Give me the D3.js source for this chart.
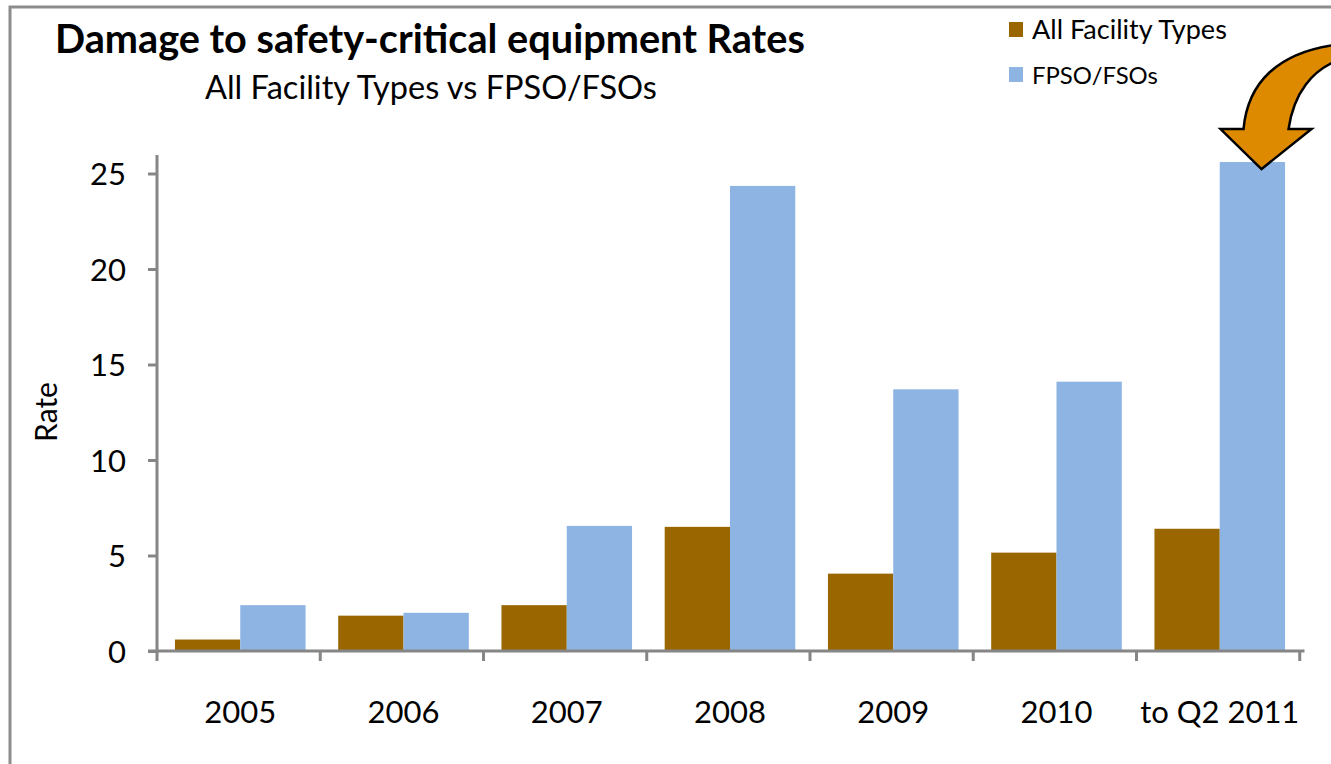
<!DOCTYPE html>
<html>
<head>
<meta charset="utf-8">
<script src="https://cdn.jsdelivr.net/npm/d3@7"></script>
<style>
  html, body { margin: 0; padding: 0; background: #fff; }
  svg { display: block; font-family: Lato, "Open Sans", sans-serif; }
</style>
</head>
<body>
<svg id="chart" width="1331" height="764"></svg>
<script>
// Categories, series and tick values
const categories = ["2005", "2006", "2007", "2008", "2009", "2010", "to Q2 2011"];
const seriesNames = ["All Facility Types", "FPSO/FSOs"];
const allFacilityTypes = [0.6, 1.85, 2.4, 6.5, 4.05, 5.15, 6.4];
const fpsoFsos = [2.4, 2.0, 6.55, 24.35, 13.7, 14.1, 25.6];
const yTicks = [0, 5, 10, 15, 20, 25];
const seriesColors = ["#996600", "#8eb4e3"];

const svg = d3.select("#chart");

const margin = { left: 157, right: 1303, top: 150, bottom: 651 };

const x = d3.scaleBand()
  .domain(categories)
  .range([margin.left, margin.right])
  .paddingInner(0.2)
  .paddingOuter(0.11);

const xSub = d3.scaleBand()
  .domain(seriesNames)
  .range([0, x.bandwidth()]);

const y = d3.scaleLinear()
  .domain([0, 25])
  .range([margin.bottom, 173.5]);

// outer frame
svg.append("rect")
  .attr("x", 10).attr("y", 7)
  .attr("width", 1340).attr("height", 800)
  .attr("fill", "none")
  .attr("stroke", "#8c8c8c")
  .attr("stroke-width", 3);

// bars
const rows = categories.map((c, i) => ({
  cat: c,
  values: [
    { name: seriesNames[0], value: allFacilityTypes[i] },
    { name: seriesNames[1], value: fpsoFsos[i] }
  ]
}));

const groups = svg.append("g").selectAll("g")
  .data(rows)
  .join("g")
  .attr("transform", d => `translate(${x(d.cat)},0)`);

groups.selectAll("rect")
  .data(d => d.values)
  .join("rect")
  .attr("x", d => xSub(d.name))
  .attr("width", xSub.bandwidth())
  .attr("y", d => y(d.value))
  .attr("height", d => y(0) - y(d.value))
  .attr("fill", (d, i) => seriesColors[i]);

// y axis
const yAxis = svg.append("g")
  .attr("transform", `translate(${margin.left},0)`)
  .call(d3.axisLeft(y).tickValues(yTicks).tickSize(9).tickPadding(22).tickFormat(d3.format("d")));
yAxis.select(".domain").attr("stroke", "#868686").attr("stroke-width", 3)
  .attr("d", `M0,${y(0) + 2}V${margin.top + 5}`);
yAxis.selectAll(".tick line").attr("stroke", "#868686").attr("stroke-width", 3);
yAxis.selectAll(".tick text")
  .attr("fill", "#000")
  .style("font-size", "31px")
  .style("font-family", "Lato, sans-serif")
  .attr("dy", "0.36em");

// x axis: ticks at category boundaries
const boundaries = d3.range(categories.length + 1).map(i => margin.left + i * x.step());
const xAxisG = svg.append("g");
xAxisG.append("line")
  .attr("x1", margin.left - 9).attr("x2", margin.right + 1.5)
  .attr("y1", y(0)).attr("y2", y(0))
  .attr("stroke", "#868686").attr("stroke-width", 3);
xAxisG.selectAll("line.tk")
  .data(boundaries)
  .join("line")
  .attr("class", "tk")
  .attr("x1", d => d).attr("x2", d => d)
  .attr("y1", y(0)).attr("y2", y(0) + 10)
  .attr("stroke", "#868686").attr("stroke-width", 3);
xAxisG.selectAll("text")
  .data(categories)
  .join("text")
  .attr("x", d => x(d) + x.bandwidth() / 2)
  .attr("y", 723)
  .attr("text-anchor", "middle")
  .style("font-size", "31px")
  .text(d => d);

// y axis title
svg.append("text")
  .attr("transform", "translate(57,412) rotate(-90)")
  .attr("text-anchor", "middle")
  .style("font-size", "30px")
  .text("Rate");

// helper to fit a text element to a given width
function fit(sel, width) {
  const node = sel.node();
  const size = parseFloat(sel.style("font-size"));
  const w = node.getComputedTextLength();
  sel.style("font-size", (size * width / w).toFixed(2) + "px");
  return sel;
}

// titles
const title = svg.append("text")
  .attr("x", 55).attr("y", 53)
  .style("font-size", "35px")
  .style("font-weight", "700")
  .text("Damage to safety-critical equipment Rates");
fit(title, 750);

const subtitle = svg.append("text")
  .attr("x", 205).attr("y", 99)
  .style("font-size", "29px")
  .text("All Facility Types vs FPSO/FSOs");
fit(subtitle, 452);

// legend
const legend = svg.append("g");
seriesNames.forEach((name, i) => {
  legend.append("rect")
    .attr("x", 1009).attr("y", 22 + i * 45)
    .attr("width", 14).attr("height", 15)
    .attr("fill", seriesColors[i]);
  const t = legend.append("text")
    .attr("x", 1032).attr("y", 39 + i * 45)
    .style("font-size", "24px")
    .text(name);
  fit(t, i === 0 ? 195 : 126);
});

// curved call-out arrow pointing at the latest FPSO/FSO bar
const lastCat = categories[categories.length - 1];
const tipX = x(lastCat) + xSub(seriesNames[1]) + xSub.bandwidth() * 0.64;
const tipY = y(fpsoFsos[fpsoFsos.length - 1]) + 7;
const arrow = d3.path();
arrow.moveTo(tipX, tipY);
arrow.lineTo(tipX - 41, tipY - 40);
arrow.lineTo(tipX - 18, tipY - 40);
arrow.bezierCurveTo(tipX - 14, tipY - 85, tipX + 15, tipY - 118, tipX + 80, tipY - 125);
arrow.lineTo(tipX + 80, tipY - 110);
arrow.bezierCurveTo(tipX + 50, tipY - 100, tipX + 32, tipY - 75, tipX + 27, tipY - 40);
arrow.lineTo(tipX + 50, tipY - 40);
arrow.closePath();
svg.append("path")
  .attr("d", arrow.toString())
  .attr("fill", "#dd8a00")
  .attr("stroke", "#000")
  .attr("stroke-width", 2.5)
  .attr("stroke-linejoin", "miter");
</script>
</body>
</html>
